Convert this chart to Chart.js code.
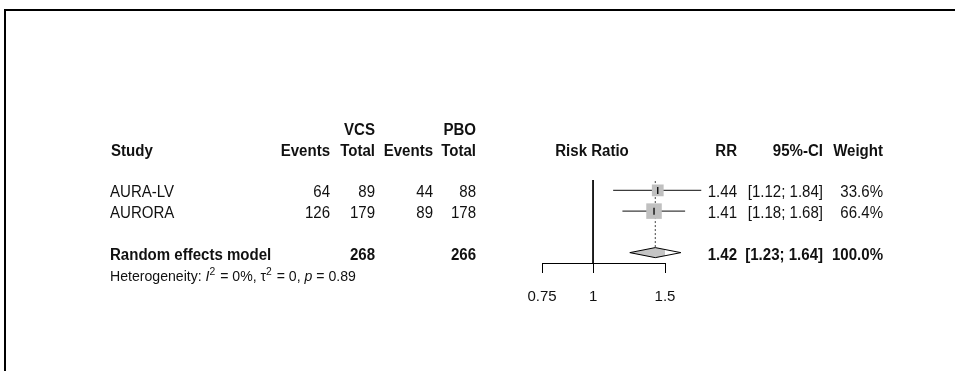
<!DOCTYPE html>
<html>
<head>
<meta charset="utf-8">
<script src="https://cdn.jsdelivr.net/npm/chart.js@4.4.1/dist/chart.umd.min.js"></script>
<style>
  html, body { margin: 0; padding: 0; background: #fff; overflow: hidden; }
  #wrap { position: relative; width: 955px; height: 371px; }
  #frame {
    position: absolute; left: 4px; top: 9px; width: 980px; height: 400px;
    border-top: 2px solid #000; border-left: 2px solid #000; pointer-events: none;
  }
  canvas { position: absolute; left: 0; top: 0; }
</style>
</head>
<body>
<div id="wrap">
  <canvas id="forest" width="955" height="371"></canvas>
  <div id="frame"></div>
</div>
<script>
// study data
const studies = ["AURA-LV", "AURORA"];
const vcsEvents = [64, 126];
const vcsTotal = [89, 179];
const pboEvents = [44, 89];
const pboTotal = [88, 178];
const rr = [1.44, 1.41];
const lower = [1.12, 1.18];
const upper = [1.84, 1.68];
const weights = [33.6, 66.4];
const studyRows = [1, 2];

// pooled result
const pooledLabel = "Random effects model";
const pooledRR = 1.42;
const pooledLower = 1.23;
const pooledUpper = 1.64;
const pooledWeight = 100.0;
const pooledRow = 4;
const hetI2 = "0%";
const hetTau2 = "0";
const hetP = "0.89";

const xTicks = [0.75, 1, 1.5];

const FONT = "'Liberation Sans', Arial, sans-serif";
const INK = "#111";
const diamondHalf = 0.242;

const fmt2 = (v) => v.toFixed(2);
const ciText = (lo, hi) => "[" + fmt2(lo) + "; " + fmt2(hi) + "]";

const datasets = [
  {
    // point estimate tick inside each square
    data: studies.map((s, i) => ({ x: rr[i], y: studyRows[i] })),
    pointStyle: "line",
    rotation: 90,
    pointRadius: 3.5,
    borderColor: "#000",
    borderWidth: 1.3,
    order: 0,
  },
  {
    data: studies.map((s, i) => ({ x: rr[i], y: studyRows[i] })),
    pointStyle: "rect",
    pointRadius: weights.map((w) => (2.5 + 1.6 * Math.sqrt(w)) / Math.SQRT2),
    backgroundColor: "#c0c0c0",
    borderWidth: 0,
    order: 1,
  },
];

studies.forEach((s, i) => {
  datasets.push({
    data: [
      { x: lower[i], y: studyRows[i] },
      { x: upper[i], y: studyRows[i] },
    ],
    showLine: true,
    borderColor: "#3c3c3c",
    borderWidth: 1.4,
    pointRadius: 0,
    order: 2,
  });
});

datasets.push({
  type: "line",
  data: [
    { x: pooledLower, y: pooledRow },
    { x: pooledRR, y: pooledRow - diamondHalf },
    { x: pooledUpper, y: pooledRow },
    { x: pooledRR, y: pooledRow + diamondHalf },
    { x: pooledLower, y: pooledRow },
  ],
  fill: "shape",
  backgroundColor: "#c4c4c4",
  borderColor: "#000",
  borderWidth: 1,
  pointRadius: 0,
  tension: 0,
  order: 3,
});

// dotted line at pooled estimate
datasets.push({
  data: [
    { x: pooledRR, y: 0.55 },
    { x: pooledRR, y: pooledRow - diamondHalf },
  ],
  showLine: true,
  borderColor: "#444",
  borderWidth: 1,
  borderDash: [2, 2],
  pointRadius: 0,
  order: 4,
});

// line of no effect
datasets.push({
  data: [
    { x: 1, y: 0.5 },
    { x: 1, y: 4.5 },
  ],
  showLine: true,
  borderColor: "#000",
  borderWidth: 1,
  pointRadius: 0,
  order: 5,
});

datasets.forEach((d) => (d.clip = false));

const textPlugin = {
  id: "forestText",
  afterDraw(chart) {
    const c = chart.ctx;
    const ys = chart.scales.y;
    const yAt = (row) => ys.getPixelForValue(row) + 7;
    c.save();
    c.fillStyle = INK;
    c.textBaseline = "alphabetic";

    // R draws a slightly taller, narrower face than Liberation Sans
    function put(txt, x, row, align, bold) {
      c.save();
      c.font = (bold ? "bold " : "") + "16px " + FONT;
      c.textAlign = align;
      c.translate(x, yAt(row));
      c.scale(0.94, 1);
      c.fillText(txt, 0, 0);
      c.restore();
    }

    // headers
    put("VCS", 375, -2, "right", true);
    put("PBO", 476, -2, "right", true);
    put("Study", 111, -1, "left", true);
    put("Events", 330, -1, "right", true);
    put("Total", 375, -1, "right", true);
    put("Events", 433, -1, "right", true);
    put("Total", 476, -1, "right", true);
    put("Risk Ratio", 592, -1, "center", true);
    put("RR", 737, -1, "right", true);
    put("95%-CI", 823, -1, "right", true);
    put("Weight", 883, -1, "right", true);

    // study rows
    studies.forEach((s, i) => {
      const r = studyRows[i];
      put(s, 110, r, "left", false);
      put(String(vcsEvents[i]), 330, r, "right", false);
      put(String(vcsTotal[i]), 375, r, "right", false);
      put(String(pboEvents[i]), 433, r, "right", false);
      put(String(pboTotal[i]), 476, r, "right", false);
      put(fmt2(rr[i]), 737, r, "right", false);
      put(ciText(lower[i], upper[i]), 823, r, "right", false);
      put(weights[i].toFixed(1) + "%", 883, r, "right", false);
    });

    // pooled row
    const sumV = vcsTotal.reduce((a, b) => a + b, 0);
    const sumP = pboTotal.reduce((a, b) => a + b, 0);
    put(pooledLabel, 110, pooledRow, "left", true);
    put(String(sumV), 375, pooledRow, "right", true);
    put(String(sumP), 476, pooledRow, "right", true);
    put(fmt2(pooledRR), 737, pooledRow, "right", true);
    put(ciText(pooledLower, pooledUpper), 823, pooledRow, "right", true);
    put(pooledWeight.toFixed(1) + "%", 883, pooledRow, "right", true);

    // heterogeneity line with italics and superscripts
    const hy = ys.getPixelForValue(pooledRow + 1) + 8;
    c.save();
    c.translate(110, hy);
    c.scale(0.94, 1);
    let x = 0;
    c.textAlign = "left";
    const parts = [
      ["Heterogeneity: ", "", 0],
      ["I", "italic ", 0],
      ["2", "", 1],
      [" = " + hetI2 + ", ", "", 0],
      ["\u03c4", "", 0],
      ["2", "", 1],
      [" = " + hetTau2 + ", ", "", 0],
      ["p", "italic ", 0],
      [" = " + hetP, "", 0],
    ];
    parts.forEach(([t, style, sup]) => {
      c.font = style + (sup ? "11px " : "15px ") + FONT;
      c.fillText(t, x, sup ? -6.5 : 0);
      x += c.measureText(t).width + (sup ? 1 : 0);
    });
    c.restore();
    c.restore();
  },
};

new Chart(document.getElementById("forest"), {
  type: "scatter",
  data: { datasets: datasets },
  options: {
    responsive: false,
    animation: false,
    events: [],
    layout: { padding: { left: 542, right: 290, top: 180, bottom: 68 } },
    scales: {
      x: {
        type: "logarithmic",
        min: 0.75,
        max: 1.5,
        afterBuildTicks: (s) => {
          s.ticks = xTicks.map((v) => ({ value: v }));
        },
        afterFit: (s) => {
          s.height = 40;
        },
        ticks: {
          callback: (v) => String(v),
          autoSkip: false,
          maxRotation: 0,
          padding: 15,
          color: INK,
          font: { family: FONT, size: 15 },
        },
        grid: {
          drawOnChartArea: false,
          drawTicks: true,
          tickLength: 10,
          color: "#000",
          lineWidth: 1,
        },
        border: { display: true, color: "#000", width: 1 },
      },
      y: {
        display: false,
        reverse: true,
        min: 0.5,
        max: 4.5,
      },
    },
    plugins: {
      legend: { display: false },
      tooltip: { enabled: false },
    },
  },
  plugins: [textPlugin],
});
</script>
</body>
</html>
